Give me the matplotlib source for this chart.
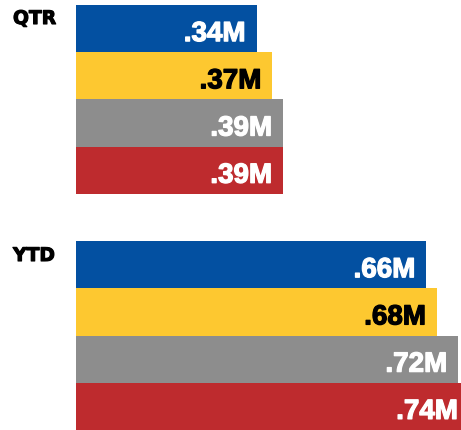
import matplotlib
matplotlib.use("Agg")
from matplotlib import pyplot as plt
import matplotlib.patheffects as pe

# data
groups = ["QTR", "YTD"]
qtr_values = [0.34, 0.37, 0.39, 0.39]
ytd_values = [0.66, 0.68, 0.72, 0.74]
bar_colors = ["#0350A1", "#FDC830", "#8D8D8D", "#BE2B2E"]
text_colors = ["white", "black", "white", "white"]

W, H = 461, 431
fig = plt.figure(figsize=(W / 100, H / 100), dpi=100)

# one slot per bar, an empty slot between the two groups
left_px, top_px, px_per_m = 76, 6, 531
ax = fig.add_axes([left_px / W, 0, px_per_m / W, (H - top_px) / H])
ax.set_xlim(0, 1)
ax.set_ylim(9, 0)
ax.axis("off")

def draw_group(values, start):
    for i, v in enumerate(values):
        y = start + i + 0.5
        ax.barh(y, v, height=1.0, color=bar_colors[i])
        lab = ("%.2f" % v).lstrip("0") + "M"
        t = ax.annotate(lab, (v, y), xytext=(-11, -12.5), textcoords="offset pixels",
                        ha="right", va="baseline", color=text_colors[i],
                        fontsize=20, fontweight="bold", family="Liberation Sans")
        t.set_path_effects([pe.withStroke(linewidth=0.9, foreground=text_colors[i])])

draw_group(qtr_values, 0)
draw_group(ytd_values, 5)

for name, base in zip(groups, [25, 262]):
    t = fig.text(13 / W, 1 - base / H, name, fontsize=13.5, fontweight="bold",
                 ha="left", va="baseline", family="DejaVu Sans")
    t.set_path_effects([pe.withStroke(linewidth=0.8, foreground="black")])

fig.savefig("out.png", dpi=100)
